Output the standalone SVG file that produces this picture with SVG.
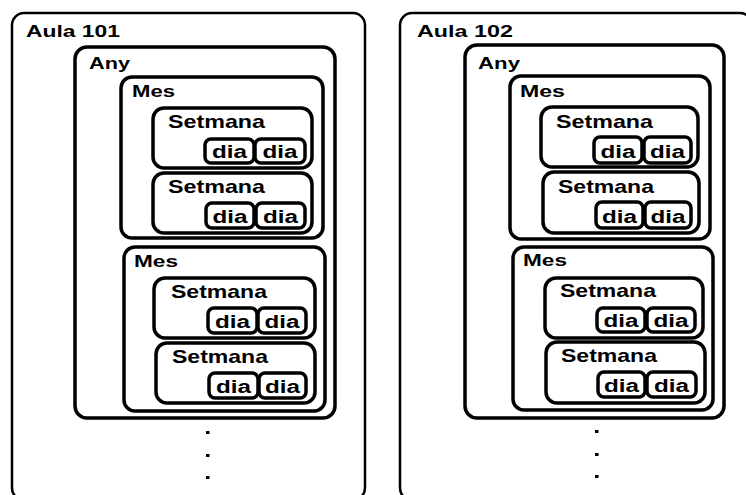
<svg xmlns="http://www.w3.org/2000/svg" width="746" height="495" viewBox="0 0 746 495">
<style>
  .aula{fill:#fff;stroke:#000;stroke-width:2.5}
  .box{fill:#fff;stroke:#000;stroke-width:3.5}
  .dia{fill:#fff;stroke:#000;stroke-width:3.5}
  text{font-family:"Liberation Sans",Arial,sans-serif;font-weight:bold;fill:#000}
  .t16{font-size:16.5px}
  .t18{font-size:19px}
  .td{font-size:18px;text-anchor:middle}
  .dot{fill:#000}
</style>
<rect width="746" height="495" fill="#fff"/>

<!-- Aula 101 -->
<g id="aula101">
  <rect class="aula" x="12" y="13" width="353" height="487" rx="12"/>
  <text class="t16" x="26" y="36.5" textLength="94" lengthAdjust="spacingAndGlyphs">Aula 101</text>
</g>
<g id="any101">
  <rect class="box" x="75" y="47" width="260" height="371" rx="12"/>
  <text class="t16" x="89" y="69" textLength="41" lengthAdjust="spacingAndGlyphs">Any</text>
</g>
<g id="mes101a">
  <rect class="box" x="121" y="77" width="202" height="161" rx="11"/>
  <text class="t16" x="132" y="97" textLength="43" lengthAdjust="spacingAndGlyphs">Mes</text>
</g>
<g id="set101a">
  <rect class="box" x="153" y="108" width="159" height="60" rx="11"/>
  <text class="t18" x="168" y="128" textLength="97" lengthAdjust="spacingAndGlyphs">Setmana</text>
</g>
<g id="dia101a1"><rect class="dia" x="205" y="139" width="49" height="24" rx="6"/><text class="td" x="229.5" y="158" textLength="35" lengthAdjust="spacingAndGlyphs">dia</text></g>
<g id="dia101a2"><rect class="dia" x="255" y="139" width="50" height="24" rx="6"/><text class="td" x="280" y="158" textLength="35" lengthAdjust="spacingAndGlyphs">dia</text></g>
<g id="set101b">
  <rect class="box" x="153" y="173" width="159" height="60" rx="11"/>
  <text class="t18" x="168" y="193" textLength="97" lengthAdjust="spacingAndGlyphs">Setmana</text>
</g>
<g id="dia101b1"><rect class="dia" x="206" y="203" width="48" height="25" rx="6"/><text class="td" x="230" y="223" textLength="35" lengthAdjust="spacingAndGlyphs">dia</text></g>
<g id="dia101b2"><rect class="dia" x="256" y="203" width="49" height="25" rx="6"/><text class="td" x="280.5" y="223" textLength="35" lengthAdjust="spacingAndGlyphs">dia</text></g>
<g id="mes101b">
  <rect class="box" x="124" y="247" width="201" height="164" rx="11"/>
  <text class="t16" x="134" y="267" textLength="44" lengthAdjust="spacingAndGlyphs">Mes</text>
</g>
<g id="set101c">
  <rect class="box" x="154" y="278" width="161" height="60" rx="11"/>
  <text class="t18" x="171" y="298" textLength="96" lengthAdjust="spacingAndGlyphs">Setmana</text>
</g>
<g id="dia101c1"><rect class="dia" x="208" y="308" width="49" height="25" rx="6"/><text class="td" x="232.5" y="328" textLength="35" lengthAdjust="spacingAndGlyphs">dia</text></g>
<g id="dia101c2"><rect class="dia" x="258" y="308" width="48" height="25" rx="6"/><text class="td" x="282" y="328" textLength="35" lengthAdjust="spacingAndGlyphs">dia</text></g>
<g id="set101d">
  <rect class="box" x="156" y="343" width="159" height="60" rx="11"/>
  <text class="t18" x="172" y="363" textLength="96" lengthAdjust="spacingAndGlyphs">Setmana</text>
</g>
<g id="dia101d1"><rect class="dia" x="209" y="373" width="49" height="25" rx="6"/><text class="td" x="233.5" y="393" textLength="35" lengthAdjust="spacingAndGlyphs">dia</text></g>
<g id="dia101d2"><rect class="dia" x="259" y="373" width="47" height="25" rx="6"/><text class="td" x="282.5" y="393" textLength="35" lengthAdjust="spacingAndGlyphs">dia</text></g>
<g id="dots101">
  <rect class="dot" x="206" y="431" width="3.5" height="3"/>
  <rect class="dot" x="206" y="454" width="3.5" height="3"/>
  <rect class="dot" x="206" y="476" width="3.5" height="3"/>
</g>

<!-- Aula 102 -->
<g id="aula102">
  <rect class="aula" x="400" y="13" width="352" height="487" rx="12"/>
  <text class="t16" x="417" y="36.5" textLength="96" lengthAdjust="spacingAndGlyphs">Aula 102</text>
</g>
<g id="any102">
  <rect class="box" x="465" y="45" width="259" height="373" rx="12"/>
  <text class="t16" x="478" y="68.5" textLength="42" lengthAdjust="spacingAndGlyphs">Any</text>
</g>
<g id="mes102a">
  <rect class="box" x="510" y="76" width="200" height="163" rx="11"/>
  <text class="t16" x="520" y="97" textLength="45" lengthAdjust="spacingAndGlyphs">Mes</text>
</g>
<g id="set102a">
  <rect class="box" x="541" y="107" width="157" height="60" rx="11"/>
  <text class="t18" x="556" y="128" textLength="97" lengthAdjust="spacingAndGlyphs">Setmana</text>
</g>
<g id="dia102a1"><rect class="dia" x="594" y="137" width="48" height="26" rx="6"/><text class="td" x="618" y="157.5" textLength="35" lengthAdjust="spacingAndGlyphs">dia</text></g>
<g id="dia102a2"><rect class="dia" x="644" y="137" width="47" height="26" rx="6"/><text class="td" x="667.5" y="157.5" textLength="35" lengthAdjust="spacingAndGlyphs">dia</text></g>
<g id="set102b">
  <rect class="box" x="543" y="172" width="156" height="61" rx="11"/>
  <text class="t18" x="558" y="193" textLength="96" lengthAdjust="spacingAndGlyphs">Setmana</text>
</g>
<g id="dia102b1"><rect class="dia" x="596" y="202" width="47" height="26" rx="6"/><text class="td" x="619.5" y="222.5" textLength="35" lengthAdjust="spacingAndGlyphs">dia</text></g>
<g id="dia102b2"><rect class="dia" x="645" y="202" width="46" height="26" rx="6"/><text class="td" x="668" y="222.5" textLength="35" lengthAdjust="spacingAndGlyphs">dia</text></g>
<g id="mes102b">
  <rect class="box" x="513" y="247" width="200" height="163" rx="11"/>
  <text class="t16" x="523" y="266" textLength="44" lengthAdjust="spacingAndGlyphs">Mes</text>
</g>
<g id="set102c">
  <rect class="box" x="545" y="278" width="158" height="60" rx="11"/>
  <text class="t18" x="560" y="297" textLength="96" lengthAdjust="spacingAndGlyphs">Setmana</text>
</g>
<g id="dia102c1"><rect class="dia" x="597" y="308" width="48" height="24" rx="6"/><text class="td" x="621" y="327" textLength="35" lengthAdjust="spacingAndGlyphs">dia</text></g>
<g id="dia102c2"><rect class="dia" x="647" y="308" width="48" height="24" rx="6"/><text class="td" x="671" y="327" textLength="35" lengthAdjust="spacingAndGlyphs">dia</text></g>
<g id="set102d">
  <rect class="box" x="546" y="342" width="159" height="61" rx="11"/>
  <text class="t18" x="561" y="362" textLength="96" lengthAdjust="spacingAndGlyphs">Setmana</text>
</g>
<g id="dia102d1"><rect class="dia" x="598" y="372" width="47" height="25" rx="6"/><text class="td" x="621.5" y="392" textLength="35" lengthAdjust="spacingAndGlyphs">dia</text></g>
<g id="dia102d2"><rect class="dia" x="647" y="372" width="49" height="25" rx="6"/><text class="td" x="671.5" y="392" textLength="35" lengthAdjust="spacingAndGlyphs">dia</text></g>
<g id="dots102">
  <rect class="dot" x="595" y="430" width="3.5" height="3"/>
  <rect class="dot" x="595" y="453" width="3.5" height="3"/>
  <rect class="dot" x="595" y="475" width="3.5" height="3"/>
</g>
</svg>
